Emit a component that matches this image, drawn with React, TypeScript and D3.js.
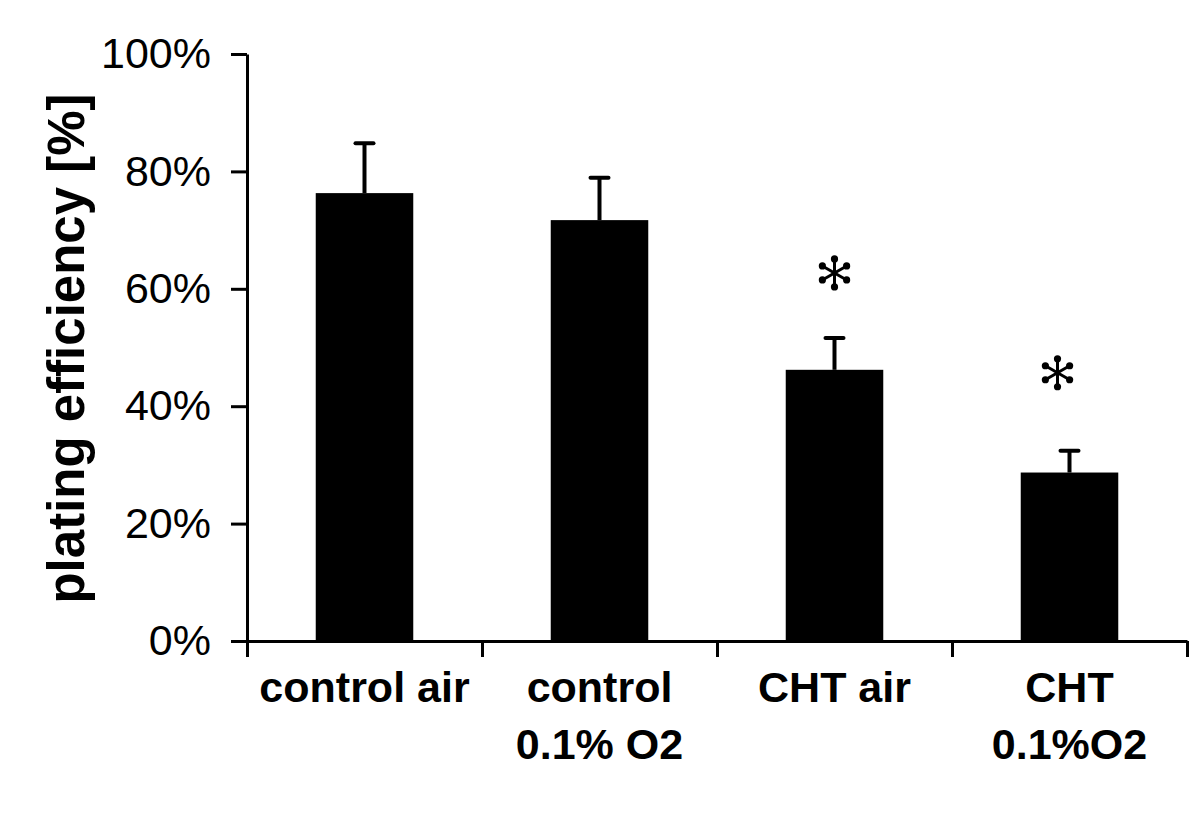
import React, { useEffect, useRef } from "react";
import * as d3 from "d3";

const categories = ["control air", "control\n0.1% O2", "CHT air", "CHT\n0.1%O2"];
const means = [76.3, 71.7, 46.2, 28.7];
const errors = [8.5, 7.2, 5.4, 3.7];
const yTicks = [0, 20, 40, 60, 80, 100];
// significance markers: bar index and height (value) of the star
const starBars = [2, 3];
const starValues = [62.7, 45.7];

export default function App() {
  const ref = useRef<SVGSVGElement>(null);

  useEffect(() => {
    const svg = d3.select(ref.current);
    svg.selectAll("*").remove();

    const left = 247, right = 1187, top = 54, bottom = 641;

    const x = d3.scaleBand().domain(categories).range([left, right]).padding(0);
    const y = d3.scaleLinear().domain([0, 100]).range([bottom, top]);
    const barW = x.bandwidth() * 0.415;
    const cx = (c) => x(c)! + x.bandwidth() / 2;

    // y axis
    const yAxis = svg
      .append("g")
      .attr("transform", `translate(${left},0)`)
      .call(
        d3
          .axisLeft(y)
          .tickValues(yTicks)
          .tickFormat((d) => `${d}%`)
          .tickSize(16)
          .tickPadding(20)
          .tickSizeOuter(0)
      );
    yAxis.select(".domain").attr("stroke", "#000").attr("stroke-width", 3);
    yAxis.selectAll(".tick line").attr("stroke", "#000").attr("stroke-width", 3);
    yAxis
      .selectAll(".tick text")
      .attr("font-family", "Liberation Sans, Arial, sans-serif")
      .attr("font-size", 43)
      .attr("fill", "#000");

    // x axis
    const xAxis = svg
      .append("g")
      .attr("transform", `translate(0,${bottom})`)
      .call(
        d3
          .axisBottom(d3.scaleLinear().domain([0, 4]).range([left, right]))
          .tickValues([0, 1, 2, 3, 4])
          .tickFormat(() => "")
          .tickSize(16)
          .tickSizeOuter(0)
      );
    xAxis.select(".domain").attr("stroke", "#000").attr("stroke-width", 3);
    xAxis.selectAll(".tick line").attr("stroke", "#000").attr("stroke-width", 3);

    // bars
    svg
      .append("g")
      .selectAll("rect")
      .data(categories)
      .join("rect")
      .attr("x", (c) => cx(c) - barW / 2)
      .attr("width", barW)
      .attr("y", (c, i) => y(means[i]))
      .attr("height", (c, i) => y(0) - y(means[i]))
      .attr("fill", "#000");

    // error bars
    const eb = svg.append("g").attr("stroke", "#000").attr("stroke-width", 4);
    categories.forEach((c, i) => {
      eb.append("line")
        .attr("x1", cx(c))
        .attr("x2", cx(c))
        .attr("y1", y(means[i]))
        .attr("y2", y(means[i] + errors[i]));
      eb.append("line")
        .attr("x1", cx(c) - 9)
        .attr("x2", cx(c) + 9)
        .attr("y1", y(means[i] + errors[i]))
        .attr("y2", y(means[i] + errors[i]))
        .attr("stroke-linecap", "round");
    });

    // asterisks
    const angles = [90, 30, -30, -90, 150, 210].map((a) => (a * Math.PI) / 180);
    starBars.forEach((bi, k) => {
      const sx = cx(categories[bi]) - (bi === 3 ? 12 : 0);
      const sy = y(starValues[k]);
      const g = svg.append("g").attr("transform", `translate(${sx},${sy})`);
      angles.forEach((a) => {
        g.append("line")
          .attr("x1", 0)
          .attr("y1", 0)
          .attr("x2", Math.cos(a) * 13)
          .attr("y2", -Math.sin(a) * 13)
          .attr("stroke", "#000")
          .attr("stroke-width", 3);
        g.append("circle")
          .attr("cx", Math.cos(a) * 14)
          .attr("cy", -Math.sin(a) * 14)
          .attr("r", 3.6)
          .attr("fill", "#000");
      });
    });

    // x labels
    const lab = svg
      .append("g")
      .attr("font-family", "Liberation Sans, Arial, sans-serif")
      .attr("font-weight", "bold")
      .attr("font-size", 43)
      .attr("text-anchor", "middle");
    categories.forEach((c) => {
      c.split("\n").forEach((line, j) => {
        lab.append("text").attr("x", cx(c)).attr("y", 702 + j * 57).text(line);
      });
    });

    // y title
    svg
      .append("text")
      .attr("transform", `translate(84,${(top + bottom) / 2 + 1}) rotate(-90)`)
      .attr("text-anchor", "middle")
      .attr("font-family", "Liberation Sans, Arial, sans-serif")
      .attr("font-weight", "bold")
      .attr("font-size", 51)
      .text("plating efficiency [%]");
  }, []);

  return (
    <svg
      ref={ref}
      width={1200}
      height={815}
      style={{ position: "absolute", left: 0, top: 0, background: "#fff" }}
    />
  );
}
